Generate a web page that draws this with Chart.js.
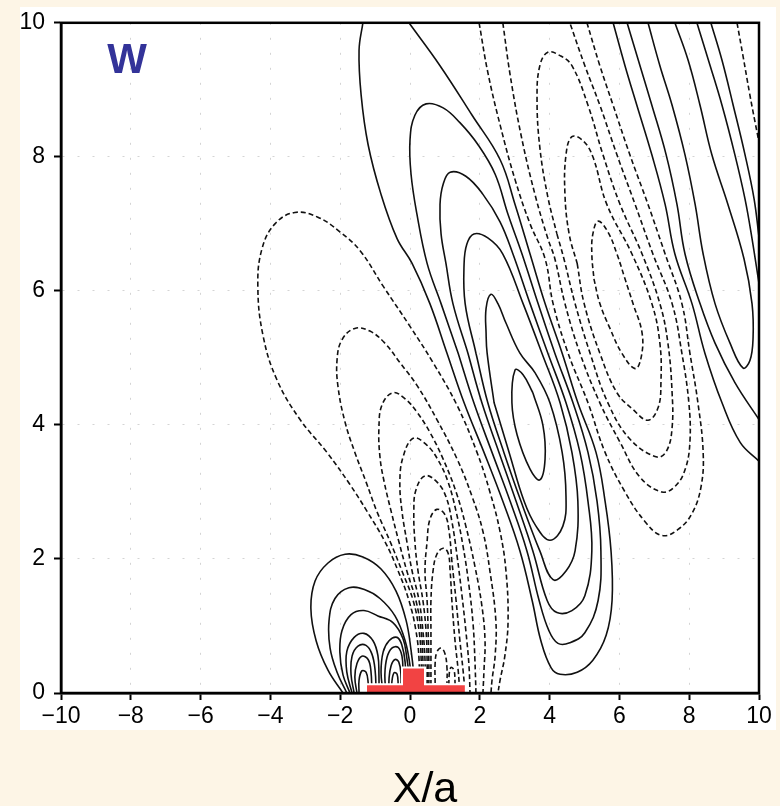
<!DOCTYPE html>
<html>
<head>
<meta charset="utf-8">
<script src="https://cdn.jsdelivr.net/npm/chart.js@4.4.1/dist/chart.umd.min.js"></script>
<style>
  html, body { margin: 0; padding: 0; background: #fdf5e6; }
  canvas { display: block; }
</style>
</head>
<body>
<canvas id="wChart" width="780" height="806"></canvas>
<script>
// axis ticks
const xTicks = [-10, -8, -6, -4, -2, 0, 2, 4, 6, 8, 10];
const yTicks = [0, 2, 4, 6, 8, 10];

// main tilted updraft lobe (w > 0), innermost first
const lobe1 = [[3.01,4.82],[3.24,4.75],[3.52,4.48],[3.81,3.99],[3.87,3.49],[3.72,3.18],[3.44,3.34],[3.07,3.85],[2.92,4.33]];
const lobe2 = [[2.32,5.95],[2.18,5.74],[2.18,5.37],[2.21,5.07],[2.41,4.33],[2.84,3.59],[3.27,2.86],[3.61,2.49],[4.01,2.28],[4.38,2.49],[4.47,2.93],[4.36,3.59],[4.01,4.33],[3.58,4.78],[3.15,5.07],[2.75,5.52],[2.52,5.81]];
const lobe3 = [[1.83,6.85],[1.63,6.70],[1.55,6.41],[1.58,5.81],[1.89,5.07],[2.23,4.33],[2.69,3.59],[3.18,2.86],[3.72,2.12],[4.10,1.69],[4.47,1.82],[4.73,2.12],[4.81,2.86],[4.64,3.59],[4.30,4.33],[3.78,5.07],[3.24,5.81],[2.66,6.55],[2.23,6.79]];
const lobe4 = [[1.15,7.77],[0.95,7.59],[0.86,7.29],[0.89,6.85],[1.03,6.41],[1.23,5.81],[1.66,5.07],[2.06,4.33],[2.55,3.59],[3.04,2.86],[3.52,2.12],[3.93,1.38],[4.21,1.20],[4.64,1.23],[5.01,1.45],[5.21,2.12],[5.10,2.86],[4.87,3.59],[4.47,4.33],[3.95,5.07],[3.44,5.81],[2.95,6.55],[2.58,7.03],[2.09,7.44],[1.60,7.71]];
const lobe5 = [[0.46,8.79],[0.14,8.62],[0,8.25],[0.03,7.74],[0.20,7.14],[0.49,6.41],[0.89,5.81],[1.38,5.07],[1.83,4.33],[2.35,3.59],[2.87,2.86],[3.35,2.12],[3.70,1.38],[3.98,0.93],[4.24,0.74],[4.58,0.75],[5.01,0.90],[5.39,1.38],[5.47,2.12],[5.36,2.86],[5.10,3.59],[4.67,4.33],[4.15,5.07],[3.67,5.81],[3.21,6.55],[2.81,7.14],[2.44,7.74],[1.95,8.18],[1.43,8.51],[0.95,8.73]];
const lobe6 = [[-1.35,10],[-1.46,9.59],[-1.40,8.92],[-1.20,8.18],[-0.83,7.44],[-0.37,6.78],[0.06,6.41],[0.57,5.81],[1.06,5.07],[1.55,4.33],[2.12,3.59],[2.66,2.86],[3.15,2.12],[3.50,1.38],[3.75,0.78],[4.04,0.38],[4.30,0.28],[4.79,0.31],[5.24,0.49],[5.62,0.86],[5.79,1.38],[5.76,2.12],[5.59,2.86],[5.33,3.59],[4.81,4.33],[4.36,5.07],[3.87,5.81],[3.44,6.55],[3.01,7.29],[2.58,7.96],[1.78,8.62],[0.86,9.36],[-0.03,10]];

// downdraft band downstream of the lobe (w < 0)
const trough1 = [[5.39,7.04],[5.24,6.85],[5.21,6.55],[5.27,6.18],[5.44,5.81],[5.73,5.44],[6.07,5.07],[6.45,4.84],[6.62,5.00],[6.65,5.37],[6.39,5.81],[6.16,6.18],[5.93,6.55],[5.67,6.88]];
const trough2 = [[4.64,8.30],[4.47,8.03],[4.44,7.44],[4.56,6.85],[4.79,6.41],[4.99,5.81],[5.44,5.07],[5.93,4.48],[6.39,4.23],[6.82,4.07],[7.11,4.26],[7.19,4.63],[7.16,5.22],[6.93,5.81],[6.36,6.55],[5.64,7.29],[5.24,8.00],[4.96,8.24]];
const trough3 = [[3.95,9.56],[3.72,9.36],[3.64,8.88],[3.72,8.14],[3.95,7.40],[4.21,6.85],[4.41,6.48],[4.73,5.81],[5.16,5.07],[5.67,4.33],[6.30,3.79],[7.08,3.52],[7.36,3.62],[7.51,3.96],[7.51,4.48],[7.39,5.22],[7.16,5.81],[6.65,6.55],[6.02,7.29],[5.53,8.03],[5.10,8.77],[4.64,9.36],[4.30,9.51]];
const trough4 = [[2.66,10],[2.87,9.22],[3.18,8.33],[3.58,7.44],[3.95,6.78],[4.15,6.48],[4.44,5.81],[4.87,5.07],[5.44,4.33],[6.02,3.74],[6.59,3.22],[7.22,3.00],[7.59,3.08],[7.88,3.33],[8.02,3.74],[7.99,4.33],[7.79,5.07],[7.51,5.81],[6.96,6.55],[6.45,7.29],[5.93,8.03],[5.44,8.77],[5.01,9.36],[4.58,10]];
const trough5 = [[1.98,10],[2.23,9.26],[2.58,8.48],[3.01,7.66],[3.44,7.00],[3.87,6.48],[4.10,5.81],[4.53,5.07],[5.10,4.33],[5.59,3.59],[6.16,3.00],[6.73,2.56],[7.22,2.35],[7.68,2.44],[8.08,2.68],[8.34,3.08],[8.40,3.59],[8.25,4.33],[8.02,5.07],[7.79,5.81],[7.31,6.55],[6.82,7.29],[6.30,8.03],[5.82,8.77],[5.44,9.36],[5.07,10]];

// next updraft band, upper right
const crestA = [[5.82,10],[6.16,9.36],[6.50,8.77],[6.93,8.03],[7.31,7.29],[7.59,6.55],[8.08,5.81],[8.45,5.07],[8.94,4.33],[9.46,3.74],[10,3.46]];
const crestB = [[6.22,10],[6.59,9.36],[6.93,8.77],[7.34,8.03],[7.65,7.29],[7.88,6.55],[8.31,5.81],[8.74,5.22],[9.31,4.63],[10,4.08]];
const crestLoop = [[6.82,10],[7.16,9.36],[7.51,8.77],[7.88,8.03],[8.17,7.29],[8.40,6.55],[8.74,5.81],[9.17,5.22],[9.54,4.85],[9.74,4.96],[9.83,5.30],[9.80,5.81],[9.57,6.48],[9.11,7.29],[8.65,8.03],[8.31,8.77],[7.97,9.44],[7.59,10]];
const crestC = [[8.22,10],[8.60,9.36],[8.94,8.77],[9.31,8.03],[9.60,7.37],[9.80,6.78],[10,6.11]];
const crestD = [[8.62,10],[8.94,9.44],[9.26,8.77],[9.60,8.03],[9.86,7.37],[10,6.80]];
const cornerTrough = [[9.37,10],[9.54,9.51],[9.74,8.92],[9.89,8.51],[10,8.22]];

// downdraft fan over the obstacle (w < 0), outermost first
const fan1 = [[0.26,0],[0.26,0.49],[0.17,0.93],[-0.03,1.38],[-0.34,1.82],[-0.72,2.26],[-1.23,2.71],[-1.72,3.11],[-2.38,3.59],[-3.15,4.08],[-3.81,4.67],[-4.21,5.33],[-4.36,6.07],[-4.24,6.63],[-3.87,7.00],[-3.30,7.17],[-2.64,7.10],[-2.01,6.88],[-1.43,6.60],[-0.77,6.07],[0,5.47],[0.66,4.93],[1.35,4.29],[1.92,3.59],[2.29,3.00],[2.58,2.41],[2.75,1.82],[2.81,1.08],[2.72,0.56],[2.58,0.19],[2.52,0]];
const fan2 = [[0.32,0],[0.32,0.49],[0.26,0.93],[0.09,1.38],[-0.23,1.82],[-0.57,2.26],[-0.95,2.71],[-1.26,3.15],[-1.58,3.59],[-1.86,4.04],[-2.06,4.56],[-2.09,4.97],[-1.95,5.27],[-1.58,5.44],[-1.15,5.40],[-0.72,5.22],[-0.29,4.93],[0.20,4.59],[0.77,4.08],[1.35,3.49],[1.78,2.93],[2.09,2.41],[2.29,1.82],[2.46,1.08],[2.44,0.56],[2.35,0.19],[2.32,0]];
const fan3 = [[0.37,0],[0.37,0.49],[0.32,0.93],[0.17,1.38],[-0.09,1.82],[-0.32,2.26],[-0.54,2.71],[-0.74,3.15],[-0.86,3.52],[-0.89,3.96],[-0.80,4.30],[-0.49,4.48],[-0.14,4.39],[0.20,4.19],[0.57,3.89],[0.95,3.49],[1.32,3.00],[1.60,2.49],[1.86,1.89],[2.06,1.30],[2.15,0.78],[2.12,0.34],[2.09,0]];
const fan4 = [[0.43,0],[0.43,0.49],[0.37,0.93],[0.26,1.38],[0.06,1.82],[-0.09,2.26],[-0.23,2.71],[-0.29,3.15],[-0.20,3.52],[0.09,3.80],[0.46,3.71],[0.80,3.48],[1.09,3.15],[1.32,2.71],[1.52,2.19],[1.69,1.60],[1.81,1.01],[1.86,0.49],[1.89,0]];
const fan5 = [[0.49,0],[0.49,0.49],[0.46,0.93],[0.37,1.38],[0.23,1.82],[0.14,2.26],[0.11,2.71],[0.17,3.03],[0.43,3.24],[0.77,3.15],[1.03,2.93],[1.20,2.56],[1.35,2.04],[1.49,1.45],[1.60,0.93],[1.69,0.41],[1.72,0]];
const fan6 = [[0.54,0],[0.54,0.49],[0.52,0.93],[0.49,1.38],[0.43,1.82],[0.49,2.26],[0.57,2.59],[0.77,2.74],[1.00,2.66],[1.12,2.41],[1.20,1.97],[1.32,1.38],[1.43,0.78],[1.52,0.34],[1.58,0]];
const fan7 = [[0.60,0],[0.60,0.49],[0.60,0.93],[0.60,1.38],[0.66,1.82],[0.77,2.07],[0.95,2.16],[1.09,2.09],[1.15,1.82],[1.20,1.38],[1.29,0.78],[1.38,0.34],[1.43,0]];
const fanSmallA = [[0.72,0.15],[0.72,0.44],[0.77,0.61],[0.89,0.67],[1.00,0.59],[1.06,0.37],[1.06,0.15]];
const fanSmallB = [[1.12,0],[1.12,0.25],[1.17,0.38],[1.26,0.34],[1.29,0.16],[1.29,0]];

// upwind updraft cells (w > 0)
const cell1 = [[-1.92,0],[-2.35,0.34],[-2.69,0.78],[-2.84,1.26],[-2.72,1.67],[-2.35,1.94],[-1.86,2.07],[-1.35,2.03],[-0.83,1.85],[-0.40,1.52],[-0.11,1.08],[0.03,0.64],[0.11,0.27],[0.14,0]];
const cell2 = [[-1.81,0],[-2.09,0.31],[-2.29,0.67],[-2.32,1.08],[-2.15,1.41],[-1.75,1.57],[-1.29,1.54],[-0.86,1.41],[-0.43,1.15],[-0.14,0.78],[0,0.41],[0.06,0]];
const cell3 = [[-1.72,0],[-1.92,0.27],[-2.01,0.61],[-1.95,0.93],[-1.69,1.17],[-1.32,1.23],[-0.92,1.15],[-0.49,1.05],[-0.20,0.81],[-0.09,0.52],[-0.03,0.27],[0,0]];
const cellL1 = [[-1.66,0],[-1.81,0.31],[-1.81,0.62],[-1.60,0.83],[-1.32,0.89],[-1.06,0.78],[-0.92,0.56],[-0.89,0.27],[-0.89,0]];
const cellL2 = [[-1.60,0],[-1.69,0.28],[-1.66,0.55],[-1.49,0.70],[-1.26,0.71],[-1.09,0.58],[-1.00,0.34],[-0.97,0]];
const cellL3 = [[-1.52,0],[-1.58,0.24],[-1.52,0.44],[-1.38,0.55],[-1.20,0.50],[-1.12,0.33],[-1.09,0]];
const cellL4 = [[-1.46,0],[-1.46,0.19],[-1.38,0.33],[-1.26,0.31],[-1.20,0.16],[-1.20,0]];
const cellR1 = [[-0.77,0],[-0.83,0.31],[-0.77,0.61],[-0.60,0.78],[-0.37,0.83],[-0.23,0.71],[-0.14,0.46],[-0.11,0]];
const cellR2 = [[-0.69,0],[-0.72,0.28],[-0.66,0.53],[-0.52,0.67],[-0.34,0.68],[-0.23,0.55],[-0.20,0.31],[-0.17,0]];
const cellR3 = [[-0.60,0],[-0.60,0.22],[-0.54,0.41],[-0.43,0.50],[-0.32,0.46],[-0.26,0.28],[-0.26,0]];
const cellR4 = [[-0.52,0],[-0.52,0.16],[-0.46,0.30],[-0.37,0.28],[-0.34,0.13],[-0.34,0]];

// stepped obstacle outline
const ridgeX = [-1.26, -1.26, -0.23, -0.23, 0.43, 0.43, 1.60, 1.60];
const ridgeY = [0, 0.13, 0.13, 0.38, 0.38, 0.13, 0.13, 0];

const solid = [
  [lobe1, true], [lobe2, true], [lobe3, true], [lobe4, true], [lobe5, true], [lobe6, false],
  [crestA, false], [crestB, false], [crestLoop, false], [crestC, false], [crestD, false],
  [cell1, false], [cell2, false], [cell3, false],
  [cellL1, false], [cellL2, false], [cellL3, false], [cellL4, false],
  [cellR1, false], [cellR2, false], [cellR3, false], [cellR4, false]
];
const dashed = [
  [trough1, true], [trough2, true], [trough3, true], [trough4, false], [trough5, false],
  [cornerTrough, false],
  [fan1, false], [fan2, false], [fan3, false], [fan4, false], [fan5, false], [fan6, false], [fan7, false],
  [fanSmallA, false], [fanSmallB, false]
];

// closed rings start on a flank so the spline seam is not on a cap
function toPoints(pts, closed) {
  let ring = pts;
  if (closed) {
    const k = Math.floor(pts.length / 4);
    ring = pts.slice(k).concat(pts.slice(0, k + 1));
  }
  return ring.map(([x, y]) => ({ x, y }));
}

function contour(pts, closed, dash) {
  return {
    data: toPoints(pts, closed),
    showLine: true,
    fill: false,
    borderColor: '#111111',
    borderWidth: 1.6,
    borderDash: dash ? [5, 3] : [],
    pointRadius: 0,
    tension: 0.4
  };
}

const datasets = [{
  data: ridgeX.map((x, i) => ({ x, y: ridgeY[i] })),
  showLine: true,
  fill: 'origin',
  backgroundColor: '#f24343',
  borderColor: '#ffffff',
  borderWidth: 2,
  pointRadius: 0,
  tension: 0
}];
solid.forEach(([p, c]) => datasets.push(contour(p, c, false)));
dashed.forEach(([p, c]) => datasets.push(contour(p, c, true)));

const FONT = '"Liberation Sans", Arial, Helvetica, sans-serif';

const panel = {
  id: 'panel',
  beforeDraw(chart) {
    const { ctx, width, height } = chart;
    ctx.save();
    ctx.fillStyle = '#fdf5e6';
    ctx.fillRect(0, 0, width, height);
    ctx.fillStyle = '#ffffff';
    ctx.fillRect(20, 7, 756, 723);
    ctx.restore();
  },
  afterDraw(chart) {
    const { ctx, chartArea: a } = chart;
    ctx.save();
    ctx.setLineDash([]);
    ctx.strokeStyle = '#000000';
    ctx.lineWidth = 2.5;
    ctx.strokeRect(a.left, a.top, a.right - a.left, a.bottom - a.top);

    ctx.textAlign = 'center';
    ctx.textBaseline = 'middle';
    ctx.fillStyle = '#333399';
    ctx.font = 'bold 42px ' + FONT;
    ctx.fillText('W', 127, 61);

    ctx.fillStyle = '#000000';
    ctx.font = '43px ' + FONT;
    ctx.fillText('X/a', 425, 790);
    ctx.restore();
  }
};

const gridStyle = {
  color: '#d4d4d4',
  lineWidth: 1,
  tickBorderDash: [],
  tickColor: '#000000',
  tickLength: 7,
  tickWidth: 2
};
// in v4 the dash of the grid lines comes from the border options
const borderStyle = { display: true, color: '#000000', width: 2.5, dash: [2, 13] };

new Chart(document.getElementById('wChart'), {
  type: 'scatter',
  data: { datasets },
  options: {
    responsive: false,
    animation: false,
    devicePixelRatio: 1,
    events: [],
    layout: { padding: { top: 17, right: 21, left: 0, bottom: 0 } },
    plugins: { legend: { display: false }, tooltip: { enabled: false } },
    scales: {
      x: {
        type: 'linear',
        min: -10,
        max: 10,
        afterBuildTicks: s => { s.ticks = xTicks.map(v => ({ value: v })); },
        afterFit: s => { s.height = 113; },
        grid: gridStyle,
        border: borderStyle,
        ticks: {
          color: '#000000',
          padding: 3,
          maxRotation: 0,
          font: { family: FONT, size: 23 },
          callback: v => (v < 0 ? '\u2212' + Math.abs(v) : String(v))
        }
      },
      y: {
        type: 'linear',
        min: 0,
        max: 10,
        afterBuildTicks: s => { s.ticks = yTicks.map(v => ({ value: v })); },
        afterFit: s => { s.width = 61; },
        grid: gridStyle,
        border: borderStyle,
        ticks: {
          color: '#000000',
          padding: 9,
          font: { family: FONT, size: 23 }
        }
      }
    }
  },
  plugins: [panel]
});
</script>
</body>
</html>
